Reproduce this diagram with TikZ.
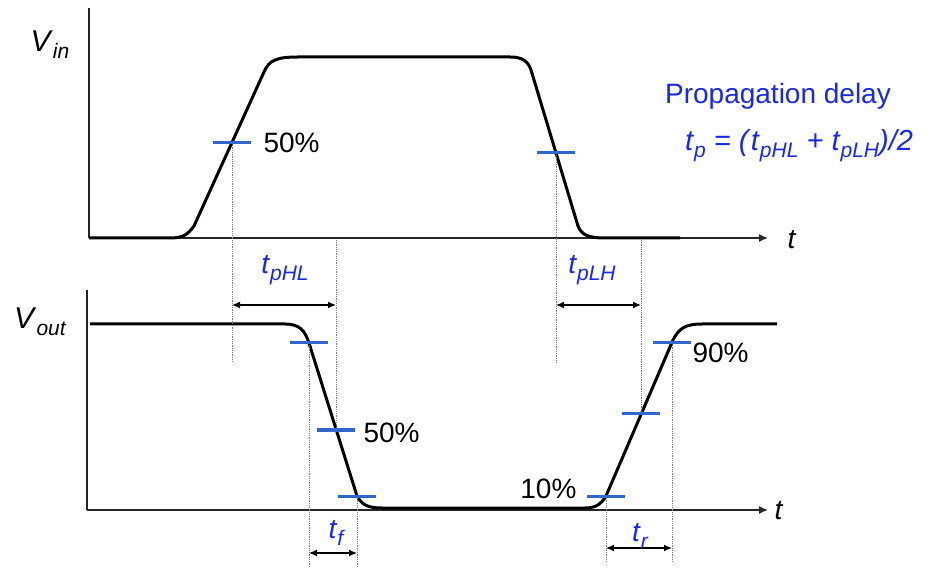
\documentclass[tikz,border=0pt]{standalone}
\usepackage{fontspec}
\setmainfont{Liberation Sans}
\usetikzlibrary{arrows.meta}
\definecolor{markblue}{RGB}{51,102,204}
\definecolor{labblue}{RGB}{25,40,235}
\newcommand{\tsub}[2]{\textit{#1}\raisebox{-0.45ex}{\fontsize{21}{21}\selectfont\itshape #2}}
\begin{document}
\begin{tikzpicture}[x=1pt, y=-1pt,
  wave/.style={line width=3pt, line join=round},
  axis/.style={line width=1.4pt, black!85},
  marker/.style={line width=3pt, markblue},
  guide/.style={densely dotted, gray, line width=0.8pt},
  span/.style={{Latex[length=8pt,width=7pt]}-{Latex[length=8pt,width=7pt]}, line width=1.2pt},
  lbl/.style={font=\fontsize{28}{30}\selectfont},
  blbl/.style={lbl, labblue}]
\useasboundingbox (0,0) rectangle (927,569);
% input waveform
\draw[axis] (89,8) -- (89,238);
\draw[axis, -{Latex[length=9pt,width=8pt]}] (89,238) -- (768,238);
\node[lbl] (tin) at (792,240) {\textit{t}};
\node[font=\fontsize{30}{32}\selectfont] (vin) at (50,45) {\tsub{V}{in}};
\draw[wave] (89,238) -- (170,238) .. controls (184,238) and (188,234) .. (194,226)
  -- (264,72) .. controls (269,60) and (277,57) .. (298,57) -- (510,57)
  .. controls (522,57) and (528,61) .. (531,70) -- (578,226)
  .. controls (582,236) and (590,238) .. (606,238) -- (680,238);
% output waveform
\draw[axis] (87,290) -- (87,510);
\draw[axis, -{Latex[length=9pt,width=8pt]}] (87,510) -- (768,510);
\node[lbl] (tout) at (779,511) {\textit{t}};
\node[font=\fontsize{30}{32}\selectfont] (vout) at (40,322) {\tsub{V}{out}};
\draw[wave] (90,324) -- (285,324) .. controls (300,324) and (305,331) .. (309,343)
  -- (357,496) .. controls (362,505) and (368,508) .. (382,508) -- (585,508)
  .. controls (597,508) and (602,503) .. (606,496) -- (673,340)
  .. controls (679,328) and (686,324) .. (702,324) -- (777,324);
% crossing points
\coordinate (in50a) at (232,143);
\coordinate (in50b) at (556,153);
\coordinate (of90) at (309,343);
\coordinate (of50) at (336,430);
\coordinate (of10) at (357,496);
\coordinate (or10) at (606,496);
\coordinate (or50) at (641,414);
\coordinate (or90) at (672,343);
% dotted guides
\draw[guide] (in50a) -- (232,362);
\draw[guide] (in50b) -- (556,362);
\draw[guide] (336,240) -- (of50);
\draw[guide] (641,240) -- (or50);
\draw[guide] (of90) -- (309,567);
\draw[guide] (of10) -- (357,567);
\draw[guide] (or10) -- (606,562);
\draw[guide] (or90) -- (672,562);
% level markers
\foreach \p in {in50a,in50b,of90,of50,of10,or10,or50,or90}
  \draw[marker] ([xshift=-19pt]\p) -- ([xshift=19pt]\p);
\node[lbl, anchor=west] (p50in) at (260,143) {50\%};
\node[lbl, anchor=west] (p50out) at (360,433) {50\%};
\node[lbl, anchor=east] (p10) at (580,489) {10\%};
\node[lbl, anchor=west] (p90) at (689,353) {90\%};
% delay spans
\coordinate (hlA) at (232,305);
\coordinate (hlB) at (336,305);
\coordinate (lhA) at (556,305);
\coordinate (lhB) at (641,305);
\coordinate (tfA) at (309,553);
\coordinate (tfB) at (357,553);
\coordinate (trA) at (606,548);
\coordinate (trB) at (672,548);
\draw[span] (hlA) -- (hlB);
\draw[span] (lhA) -- (lhB);
\draw[span] (tfA) -- (tfB);
\draw[span] (trA) -- (trB);
\node[blbl] (tphl) at (285,270) {\tsub{t}{pHL}};
\node[blbl] (tplh) at (592,270) {\tsub{t}{pLH}};
\node[blbl] (tf) at (336,533) {\tsub{t}{f}};
\node[blbl] (tr) at (640,536) {\tsub{t}{r}};
% formula
\node[lbl, labblue] (pdelay) at (778,96) {Propagation delay};
\node[blbl, font=\fontsize{29}{31}\selectfont] (tpform) at (799,146) {\tsub{t}{p} \textit{= (}\tsub{t}{pHL} \textit{+} \tsub{t}{pLH}\textit{)/2}};
\end{tikzpicture}
\end{document}
